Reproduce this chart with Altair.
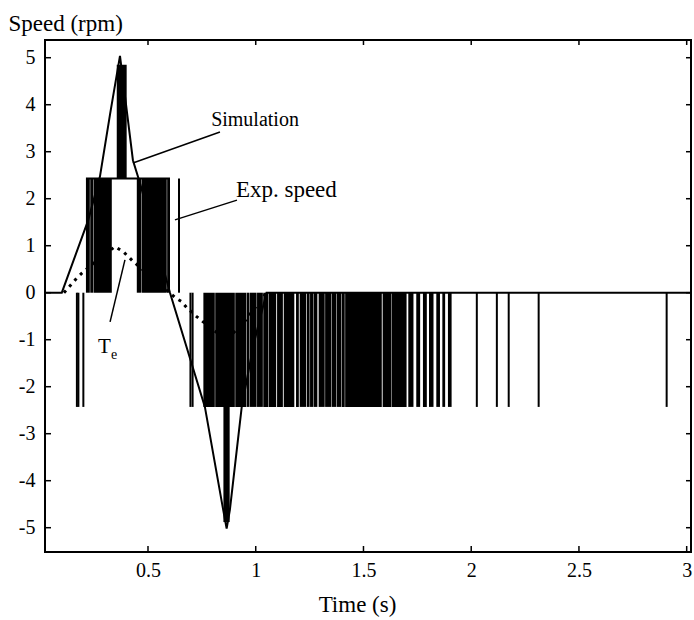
import altair as alt
import pandas as pd

# ---- axis ticks / domains ----
x_ticks = [0.5, 1, 1.5, 2, 2.5, 3]
y_ticks = [-5, -4, -3, -2, -1, 0, 1, 2, 3, 4, 5]
x_domain = [0.022, 3.02]
y_domain = [-5.517, 5.377]

# ---- Simulation (solid line) ----
sim_t = [0.022, 0.10, 0.223, 0.277, 0.324, 0.370, 0.430, 0.463, 0.602, 0.764,
         0.849, 0.865, 0.880, 0.935, 0.99, 1.05, 3.02]
sim_v = [0, 0, 1.55, 2.47, 3.80, 5.04, 2.82, 2.33, 0, -2.43,
         -4.62, -5.02, -4.62, -2.43, -1.1, 0, 0]

# ---- Te (dotted line) ----
te_t = [0.11, 0.169, 0.192, 0.27, 0.347, 0.386, 0.417, 0.432, 0.53, 0.60,
        0.63, 0.656, 0.68, 0.726, 0.80, 0.865, 0.95, 1.05]
te_v = [0, 0.31, 0.41, 0.72, 0.98, 0.87, 0.73, 0.66, 0.28, 0.0,
        -0.12, -0.19, -0.32, -0.51, -0.78, -1.0, -0.6, 0]

# ---- Exp. speed: dense switching blocks ----
blk_t0 = [0.212, 0.232, 0.247, 0.448, 0.472, 0.589, 0.355, 0.850,
          0.757, 0.812, 0.905, 0.958, 0.973, 1.006, 1.035, 1.060, 1.099, 1.130,
          1.187, 1.204, 1.237, 1.252, 1.268, 1.292, 1.322, 1.353, 1.376, 1.399,
          1.415, 1.589, 1.630, 1.708, 1.745, 1.776, 1.804, 1.838, 1.866, 1.892]
blk_t1 = [0.230, 0.245, 0.332, 0.470, 0.587, 0.602, 0.401, 0.879,
          0.810, 0.903, 0.956, 0.971, 1.004, 1.033, 1.058, 1.095, 1.126, 1.179,
          1.200, 1.234, 1.250, 1.266, 1.286, 1.320, 1.351, 1.374, 1.397, 1.413,
          1.585, 1.628, 1.700, 1.732, 1.763, 1.794, 1.825, 1.855, 1.879, 1.909]
blk_lo = [0, 0, 0, 0, 0, 0, 2.43, -2.43] + [0] * 30
blk_hi = [2.43, 2.43, 2.43, 2.43, 2.43, 2.43, 4.85, -4.88] + [-2.43] * 30

# ---- Exp. speed: isolated pulses ----
pulse_t = [0.170, 0.177, 0.200, 0.644, 0.697, 0.707, 2.026, 2.119, 2.174, 2.313, 2.907]
pulse_v = [-2.43, -2.43, -2.43, 2.43, -2.43, -2.43, -2.43, -2.43, -2.43, -2.43, -2.43]

# ---- Exp. speed: constant level segment ----
level_t0 = [0.212]
level_t1 = [0.602]
level_v = [2.43]

# ---- annotations ----
sim_label = ["Simulation"]
sim_label_t = [0.793]
sim_label_v = [3.55]
exp_label = ["Exp. speed"]
exp_label_t = [0.908]
exp_label_v = [2.04]
te_label = ["T"]
te_label_t = [0.268]
te_label_v = [-1.28]
sub_text = ["e"]
sub_t = [0.328]
sub_v = [-1.40]
lead_t0 = [0.430, 0.625, 0.393]
lead_v0 = [2.76, 1.55, 0.70]
lead_t1 = [0.834, 0.913, 0.324]
lead_v1 = [3.42, 1.97, -0.62]

FONT = "Liberation Serif"
W, H = 646, 512

xs = alt.Scale(domain=x_domain, nice=False, zero=False)
ys = alt.Scale(domain=y_domain, nice=False, zero=False)

x_axis = alt.Axis(values=x_ticks, labelExpr="datum.value", ticks=False, domain=False,
                  grid=False, labelFont=FONT, labelFontSize=20, labelPadding=8,
                  labelColor="black", labelFlush=False, labelOverlap=False,
                  title="Time (s)", titleFont=FONT, titleFontSize=23,
                  titleFontWeight="normal", titleColor="black", titleX=312, titleY=59,
                  titleBaseline="alphabetic")
y_axis = alt.Axis(values=y_ticks, labelExpr="datum.value", ticks=False, domain=False,
                  grid=False, labelFont=FONT, labelFontSize=20, labelPadding=10,
                  labelColor="black", labelFlush=False, labelOverlap=False,
                  title="Speed (rpm)", titleFont=FONT, titleFontSize=23,
                  titleFontWeight="normal", titleColor="black", titleAngle=0,
                  titleAlign="left", titleBaseline="alphabetic", titleX=-37, titleY=-10)


def X(f):
    return alt.X(f"{f}:Q", scale=xs, axis=x_axis)


def Y(f):
    return alt.Y(f"{f}:Q", scale=ys, axis=y_axis)


def label_layer(texts, ts, vs, size):
    df = pd.DataFrame({"t": ts, "v": vs, "s": texts})
    return alt.Chart(df).mark_text(font=FONT, fontSize=size, align="left",
                                   baseline="alphabetic", color="black").encode(
        x=X("t"), y=Y("v"), text="s:N")


sim_df = pd.DataFrame({"t": sim_t, "v": sim_v})
te_df = pd.DataFrame({"t": te_t, "v": te_v})
blk_df = pd.DataFrame({"t0": blk_t0, "t1": blk_t1, "lo": blk_lo, "hi": blk_hi})
pulse_df = pd.DataFrame({"t": pulse_t, "v": pulse_v, "z": [0] * len(pulse_t)})
level_df = pd.DataFrame({"t0": level_t0, "t1": level_t1, "v": level_v})
lead_df = pd.DataFrame({"t0": lead_t0, "v0": lead_v0, "t1": lead_t1, "v1": lead_v1})
xt_df = pd.DataFrame({"tick": x_ticks})
yt_df = pd.DataFrame({"tick": y_ticks})

te = alt.Chart(te_df).mark_line(color="black", strokeWidth=3, strokeDash=[3, 5]).encode(
    x=X("t"), y=Y("v"))
blocks = alt.Chart(blk_df).mark_rect(color="black").encode(
    x=X("t0"), x2="t1", y=Y("lo"), y2="hi")
pulses = alt.Chart(pulse_df).mark_rule(color="black", strokeWidth=2).encode(
    x=X("t"), y=Y("z"), y2="v")
level = alt.Chart(level_df).mark_rule(color="black", strokeWidth=2).encode(
    x=X("t0"), x2="t1", y=Y("v"))
sim = alt.Chart(sim_df).mark_line(color="black", strokeWidth=2).encode(
    x=X("t"), y=Y("v"))
leads = alt.Chart(lead_df).mark_rule(color="black", strokeWidth=1.5).encode(
    x=X("t0"), x2="t1", y=Y("v0"), y2="v1")
lab_sim = label_layer(sim_label, sim_label_t, sim_label_v, 20)
lab_exp = label_layer(exp_label, exp_label_t, exp_label_v, 23)
lab_te = label_layer(te_label, te_label_t, te_label_v, 21)
lab_sub = label_layer(sub_text, sub_t, sub_v, 14)

xt_bot = alt.Chart(xt_df).mark_rule(color="black", strokeWidth=1.5).encode(
    x=X("tick"), y=alt.value(H), y2=alt.value(H - 6))
xt_top = alt.Chart(xt_df).mark_rule(color="black", strokeWidth=1.5).encode(
    x=X("tick"), y=alt.value(0), y2=alt.value(5))
yt_left = alt.Chart(yt_df).mark_rule(color="black", strokeWidth=1.5).encode(
    y=Y("tick"), x=alt.value(0), x2=alt.value(6))
yt_right = alt.Chart(yt_df).mark_rule(color="black", strokeWidth=1.5).encode(
    y=Y("tick"), x=alt.value(W), x2=alt.value(W - 5))

chart = alt.layer(te, blocks, pulses, level, sim, leads,
                  lab_sim, lab_exp, lab_te, lab_sub,
                  xt_bot, xt_top, yt_left, yt_right).properties(
    width=W, height=H,
    autosize=alt.AutoSizeParams(type="none"),
    padding={"left": 45, "top": 40, "right": 3, "bottom": 68},
    background="white",
).configure_view(stroke="black", strokeWidth=2)

chart.save("out.html", embed_options={"renderer": "svg", "actions": False})
